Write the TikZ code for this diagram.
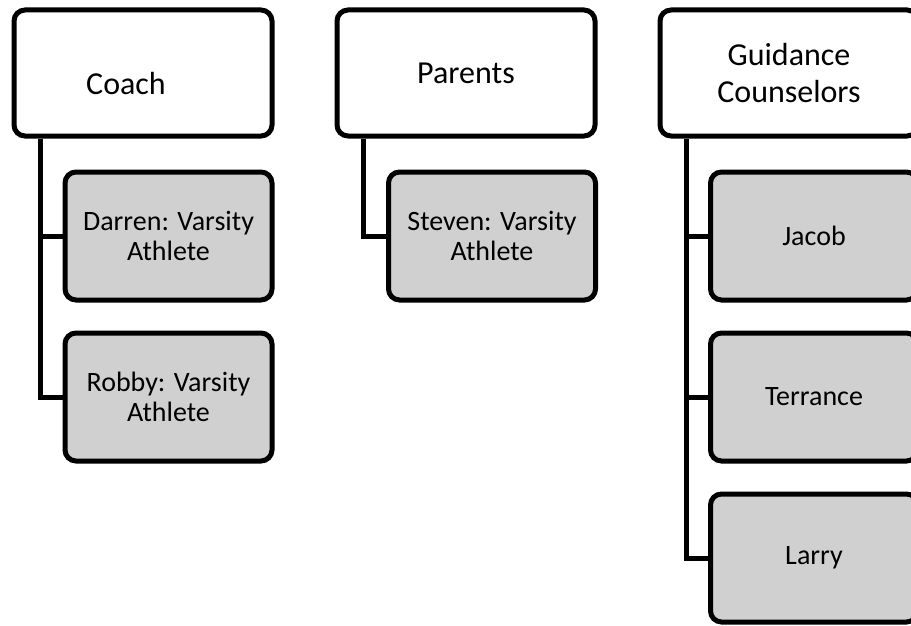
\documentclass[tikz,border=0pt]{standalone}
\usepackage{fontspec}
\setmainfont{Carlito}
\usetikzlibrary{positioning}

\definecolor{boxgray}{RGB}{208,208,208}

\tikzset{
    topbox/.style={
        draw,
        line width=5pt,
        rounded corners=11pt,
        fill=white,
        minimum width=258pt,
        minimum height=126pt,
        inner sep=0pt,
        align=center,
        font=\fontsize{32}{37}\selectfont
    },
    kidbox/.style={
        draw,
        line width=5pt,
        rounded corners=11pt,
        fill=boxgray,
        minimum width=207pt,
        minimum height=128pt,
        inner sep=0pt,
        align=center,
        font=\fontsize{28}{29.5}\selectfont
    },
    link/.style={line width=5pt}
}

\begin{document}
\begin{tikzpicture}[x=1pt, y=-1pt]
        \useasboundingbox (0,0) rectangle (911,626);
        \clip (0,0) rectangle (911,626);

        % top row
        \node[
            topbox,
            label={[font=\fontsize{32}{37}\selectfont, xshift=-17pt, yshift=-11pt]center:Coach}
        ] (coach) at (143,73) {};
        \node[topbox] (parents) at (466,73) {Parents};
        \node[topbox] (guide) at (789,73) {Guidance\\Counselors};

        % students
        \node[kidbox] (darren) at (168.5,236) {Darren: Varsity\\Athlete};
        \node[kidbox] (robby) at (168.5,397) {Robby: Varsity\\Athlete};
        \node[kidbox] (steven) at (492,236) {Steven: Varsity\\Athlete};
        \node[kidbox] (jacob) at (814,236) {Jacob};
        \node[kidbox] (terrance) at (814,397) {Terrance};
        \node[kidbox] (larry) at (814,558) {Larry};

        \coordinate (coachlink) at ([xshift=28.5pt]coach.south west);
        \coordinate (parentslink) at ([xshift=28.5pt]parents.south west);
        \coordinate (guidelink) at ([xshift=28.5pt]guide.south west);

        \foreach \kid in {darren,robby} {
            \draw[link] (coachlink) |- (\kid.west);
        }
        \draw[link] (parentslink) |- (steven.west);
        \foreach \kid in {jacob,terrance,larry} {
            \draw[link] (guidelink) |- (\kid.west);
        }
    \end{tikzpicture}
\end{document}
